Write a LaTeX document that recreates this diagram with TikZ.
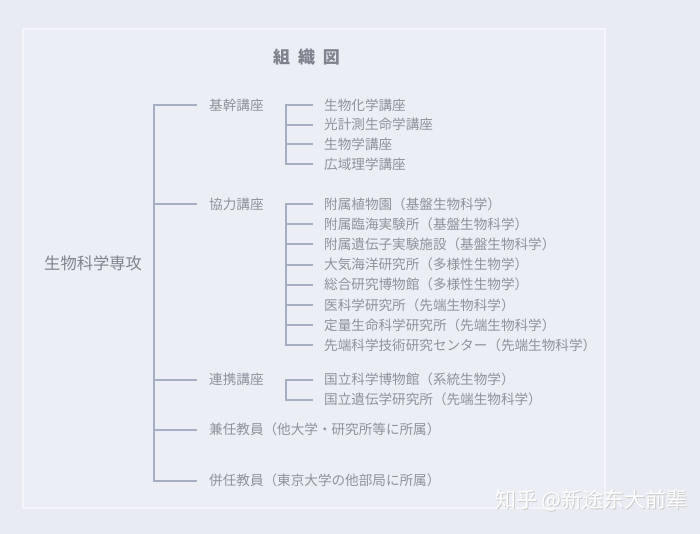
\documentclass[tikz,border=0pt]{standalone}
\usepackage{fontspec}
\setmainfont{Noto Sans CJK JP}
\newfontfamily\zhfont{Noto Sans CJK SC}
\usetikzlibrary{positioning}
\definecolor{fond}{HTML}{E8EBF2}
\definecolor{cadre}{HTML}{EBEEF5}
\definecolor{bord}{HTML}{F3F5F9}
\definecolor{texte}{HTML}{8D929D}
\definecolor{titrecol}{HTML}{7E838E}
\definecolor{trait}{HTML}{A5AEC3}
\tikzset{
  etiquette/.style={anchor=west, inner sep=0pt, text=texte, font=\fontsize{13.6}{16}\selectfont},
  branche/.style={draw=trait, line width=2pt},
}
\begin{document}
\begin{tikzpicture}[x=1pt,y=-1pt]
    % Fond et cadre
    \fill[fond] (0,0) rectangle (700,534);
    \useasboundingbox (0,0) rectangle (700,534);
    \draw[bord, fill=cadre, line width=1.5pt] (23,29) rectangle (605,508);

    % Titre
    \node[text=titrecol, font=\bfseries\fontsize{17}{20}\selectfont] (titre) at (306.5,57) {組\hspace{0.47em}織\hspace{0.47em}図};

    % Specialite
    \node[etiquette, text=titrecol, font=\fontsize{16.3}{19}\selectfont] (specialite) at (44,263) {生物科学専攻};

    % Categories
    \foreach \nom/\y/\txt in {kikan/105/基幹講座, kyoryoku/204/協力講座, renkei/379.5/連携講座,
        kennin/429.5/兼任教員（他大学・研究所等に所属）, heinin/480.5/併任教員（東京大学の他部局に所属）} {
        \node[etiquette] (\nom) at (209,\y) {\txt};
    }

    % Tronc principal
    \coordinate (tronc) at (154,0);
    \draw[branche] ([xshift=-12pt]kikan.west) -- (tronc |- kikan.west) -- (tronc |- heinin.west) -- ([xshift=-12pt]heinin.west);
    \foreach \nom in {kyoryoku,renkei,kennin} {
        \draw[branche] (tronc |- \nom.west) -- ([xshift=-12pt]\nom.west);
    }

    % Sous-branches : kikan
    \foreach \txt [count=\i from 0] in {生物化学講座, 光計測生命学講座, 生物学講座, 広域理学講座} {
        \node[etiquette] (ki\i) at (324,{105+19.7*\i}) {\txt};
    }
    % Sous-branches : kyoryoku
    \foreach \txt [count=\i from 0] in {附属植物園（基盤生物科学）, 附属臨海実験所（基盤生物科学）,
        附属遺伝子実験施設（基盤生物科学）, 大気海洋研究所（多様性生物学）, 総合研究博物館（多様性生物学）,
        医科学研究所（先端生物科学）, 定量生命科学研究所（先端生物科学）, 先端科学技術研究センター（先端生物科学）} {
        \node[etiquette] (ky\i) at (324,{204+20.2*\i}) {\txt};
    }
    % Sous-branches : renkei
    \foreach \txt [count=\i from 0] in {国立科学博物館（系統生物学）, 国立遺伝学研究所（先端生物科学）} {
        \node[etiquette] (re\i) at (324,{379.5+20*\i}) {\txt};
    }

    % Traits des sous-branches
    \coordinate (sous) at (286,0);
    \draw[branche] ([xshift=-11pt]ki0.west) -- (sous |- ki0.west) -- (sous |- ki3.west) -- ([xshift=-11pt]ki3.west);
    \foreach \j in {1,2} {
        \draw[branche] (sous |- ki\j.west) -- ([xshift=-11pt]ki\j.west);
    }
    \draw[branche] ([xshift=-11pt]ky0.west) -- (sous |- ky0.west) -- (sous |- ky7.west) -- ([xshift=-11pt]ky7.west);
    \foreach \j in {1,...,6} {
        \draw[branche] (sous |- ky\j.west) -- ([xshift=-11pt]ky\j.west);
    }
    \draw[branche] ([xshift=-11pt]re0.west) -- (sous |- re0.west) -- (sous |- re1.west) -- ([xshift=-11pt]re1.west);

    % Filigrane
    \node[text=black!20, font=\zhfont\fontsize{21}{23}\selectfont] (ombre) at (592.5,501.5) {知乎 @新途东大前辈};
    \node[text=white, font=\zhfont\fontsize{21}{23}\selectfont] (filigrane) at (591.5,500.5) {知乎 @新途东大前辈};
\end{tikzpicture}
\end{document}
